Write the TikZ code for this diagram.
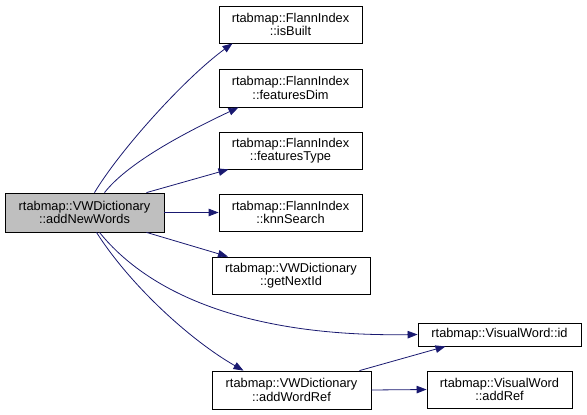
\documentclass[tikz,border=0pt]{standalone}
\usepackage{fontspec}
\setmainfont{Liberation Sans}
\usepackage{tikz}
\usetikzlibrary{positioning,calc,arrows.meta}
\definecolor{edgeblue}{HTML}{191970}
\definecolor{boxgray}{HTML}{BFBFBF}
\tikzset{
  figfont/.style={font=\fontsize{12.8}{13.5}\selectfont},
  figbox/.style={draw, line width=0.8pt, align=center, inner sep=0pt},
  figboxgray/.style={figbox, fill=boxgray},
  figarrow/.style={-{Triangle[length=10pt, width=7.5pt]}, edgeblue, line width=0.8pt},
}
\begin{document}
\begin{tikzpicture}[x=1pt, y=-1pt, figfont]
  \useasboundingbox (0,0) rectangle (587,415);

  % Caller
  \node[figboxgray, minimum width=159pt, minimum height=39pt] (vwdict) at (84.5,212.5) {rtabmap::VWDictionary\\::addNewWords};

  % Callees
  \node[figbox, minimum width=143pt, minimum height=37pt] (isbuilt) at (290.5,24.5) {rtabmap::FlannIndex\\::isBuilt};
  \node[figbox, minimum width=143pt, minimum height=38pt] (fdim) at (290.5,88) {rtabmap::FlannIndex\\::featuresDim};
  \node[figbox, minimum width=143pt, minimum height=37pt] (ftype) at (290.5,150.5) {rtabmap::FlannIndex\\::featuresType};
  \node[figbox, minimum width=143pt, minimum height=37pt] (knn) at (290.5,212.5) {rtabmap::FlannIndex\\::knnSearch};
  \node[figbox, minimum width=158pt, minimum height=37pt] (nextid) at (291,275.5) {rtabmap::VWDictionary\\::getNextId};
  \node[figbox, minimum width=159pt, minimum height=38pt] (addref) at (291.5,390) {rtabmap::VWDictionary\\::addWordRef};
  \node[figbox, minimum width=163pt, minimum height=23pt] (vwid) at (499.5,334.5) {rtabmap::VisualWord::id};
  \node[figbox, minimum width=145pt, minimum height=37pt] (vwaddref) at (499.5,389.5) {rtabmap::VisualWord\\::addRef};

  % Calls
  \draw[figarrow] ([xshift=10pt]vwdict.north) .. controls (120,150) and (185,78) .. ([xshift=-58pt]isbuilt.south);
  \draw[figarrow] ([xshift=20pt]vwdict.north) .. controls (130,160) and (195,128) .. ([xshift=-52pt]fdim.south);
  \draw[figarrow] ([xshift=62pt]vwdict.north) -- ([xshift=-62pt]ftype.south);
  \draw[figarrow] (vwdict.east) -- (knn.west);
  \draw[figarrow] ([xshift=62pt]vwdict.south) -- ([xshift=-63pt]nextid.north);
  \draw[figarrow] ([xshift=15pt]vwdict.south) .. controls (150,295) and (250,337) .. (vwid.west);
  \draw[figarrow] ([xshift=12pt]vwdict.south) .. controls (130,285) and (190,340) .. ([xshift=-48pt]addref.north);
  \draw[figarrow] ([xshift=68pt]addref.north) -- ([xshift=-54pt]vwid.south);
  \draw[figarrow] (addref.east) -- (vwaddref.west);
\end{tikzpicture}
\end{document}
